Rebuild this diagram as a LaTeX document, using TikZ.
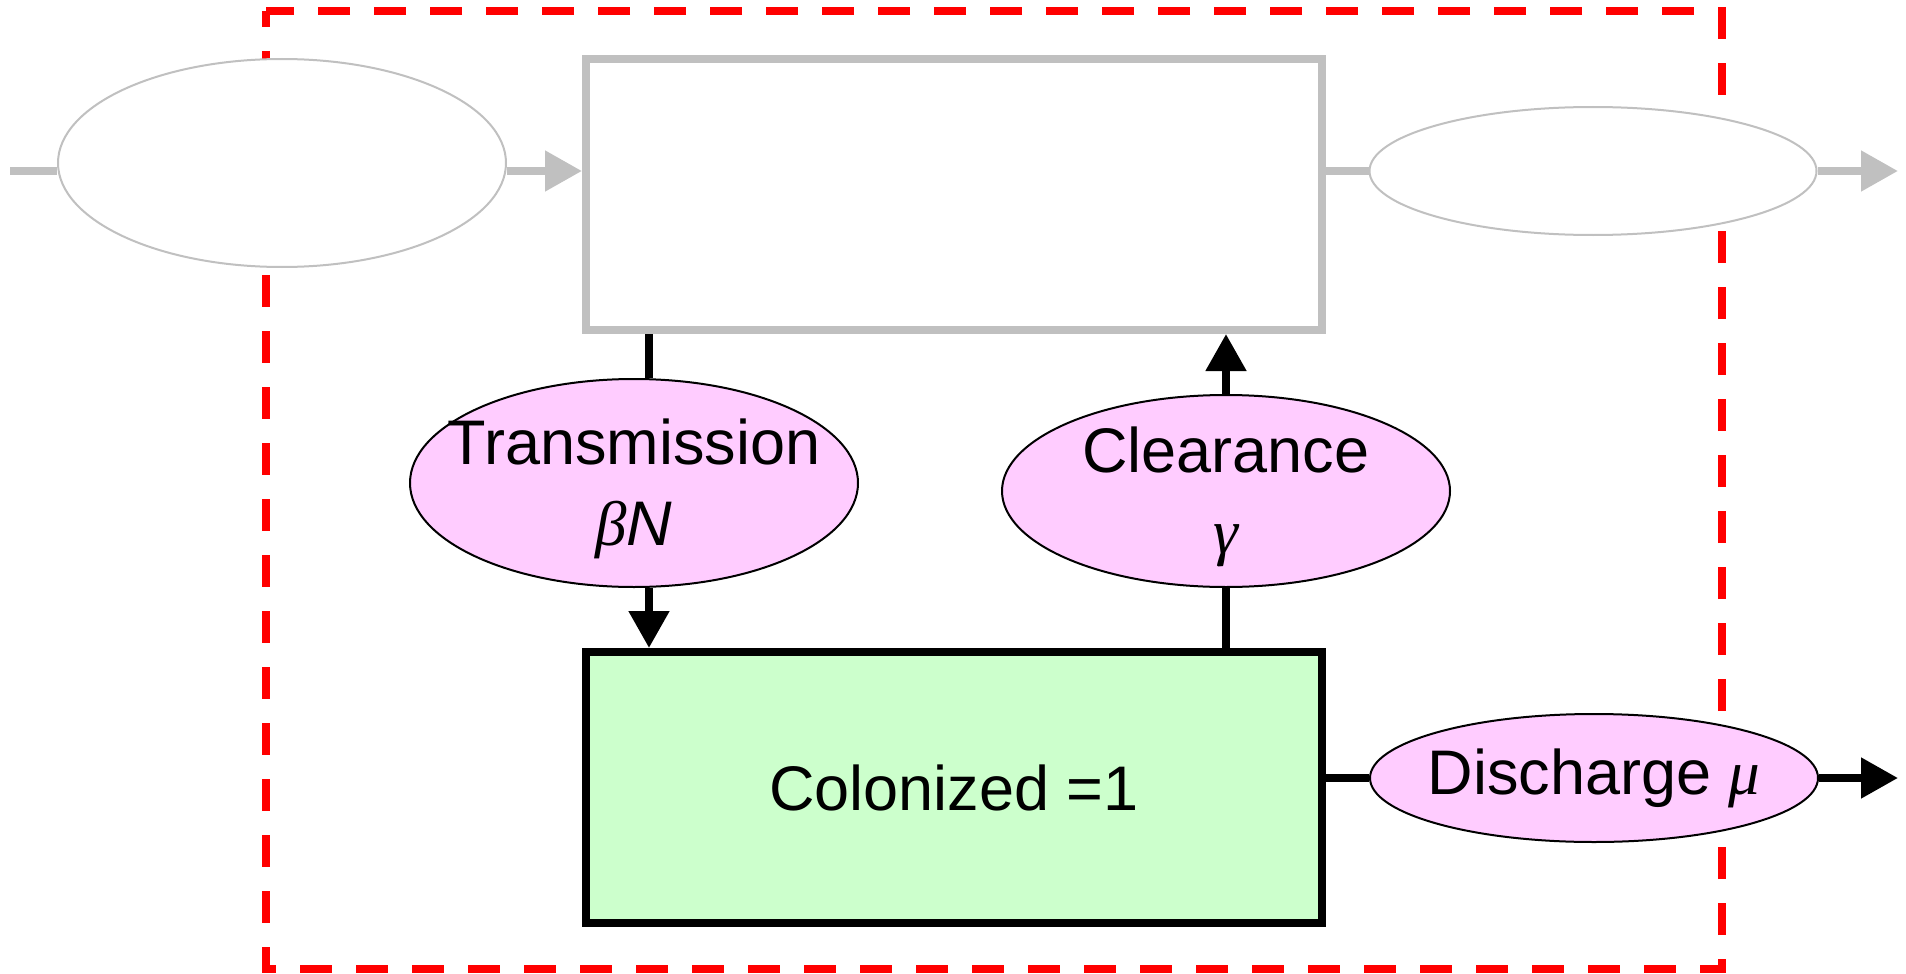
\documentclass[tikz,border=0pt]{standalone}
\usepackage{fontspec}
\setmainfont{Liberation Sans}
\newfontfamily\grk{Liberation Serif}
\usetikzlibrary{shapes.geometric,arrows.meta}
\definecolor{lgray}{RGB}{192,192,192}
\definecolor{pinkfill}{RGB}{255,204,255}
\definecolor{greenfill}{RGB}{204,255,204}
\begin{document}
\begin{tikzpicture}[x=0.5pt,y=-0.5pt,
  box/.style={draw, rectangle, minimum width=368pt, minimum height=135.5pt, line width=4pt, inner sep=0pt},
  grayell/.style={draw=lgray, fill=white, ellipse, line width=1pt, inner sep=0pt},
  rateell/.style={draw=black, fill=pinkfill, ellipse, line width=1pt, inner sep=0pt},
  lbl/.style={font=\fontsize{31.5pt}{40.5pt}\selectfont, align=center, inner sep=0pt},
  grayflow/.style={draw=lgray, line width=4pt},
  flow/.style={draw=black, line width=4pt},
  tip/.style={-{Triangle[length=18.5pt,width=19.5pt]}}
]
\path[use as bounding box] (0,0) rectangle (1906,974);
% system boundary
\draw[red, line width=3.75pt, dash pattern=on 16pt off 12pt, dash phase=8pt] (266,11) rectangle (1722,969);
% compartments
\node[box, draw=lgray, fill=white] (host) at (954,194.5) {};
\node[box, fill=greenfill] (col) at (954,787.5) {};
\node[grayell, minimum width=224pt, minimum height=104pt] (lell) at (282,163) {};
\node[grayell, minimum width=223.5pt, minimum height=64pt] (rell) at (1593,171) {};
\node[rateell, minimum width=224pt, minimum height=104pt] (trans) at (634,483) {};
\node[rateell, minimum width=224pt, minimum height=96pt] (clear) at (1226,491) {};
\node[rateell, minimum width=224pt, minimum height=64pt] (dis) at (1594,778) {};
% texts
\node[lbl, yshift=-3pt] (transtxt) at (trans.center) {Transmission\\{\grk\itshape β}\textit{N}};
\node[lbl, yshift=-3pt] (cleartxt) at (clear.center) {Clearance\\{\grk\itshape γ}};
\node[lbl] (distxt) at (dis.center) {Discharge {\grk\itshape μ}};
\node[lbl] (coltxt) at (col.center) {Colonized =1};
% free ends
\coordinate (src) at (10,171);
\coordinate (sink) at (1898,171);
\coordinate (out) at (1898,778);
\coordinate (tx) at (649,0);
% connectors
\draw[grayflow] (src) -- (src -| lell.west);
\draw[grayflow, tip] (lell.east |- src) -- (host.west |- src);
\draw[grayflow] (host.east |- src) -- (rell.west);
\draw[grayflow, tip] (rell.east) -- (sink);
\draw[flow] (host.south -| tx) -- (trans.north -| tx);
\draw[flow, tip] (trans.south -| tx) -- (col.north -| tx);
\draw[flow] (col.north -| clear.south) -- (clear.south);
\draw[flow, tip] (clear.north) -- (host.south -| clear.north);
\draw[flow] (col.east |- dis.west) -- (dis.west);
\draw[flow, tip] (dis.east) -- (out);
\end{tikzpicture}
\end{document}
